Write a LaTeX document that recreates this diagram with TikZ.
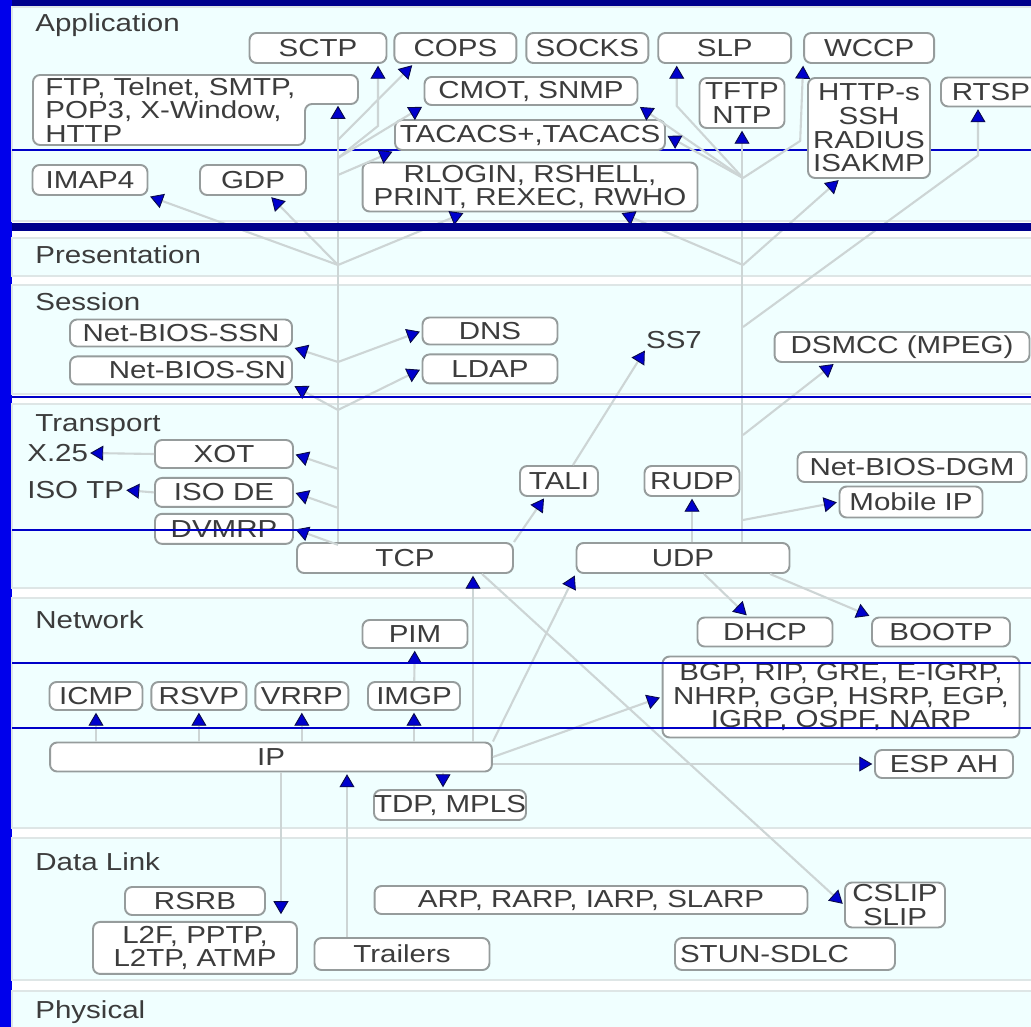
\documentclass[tikz,border=0pt]{standalone}
\usepackage{fontspec}
\setmainfont{Liberation Sans}[FakeStretch=1.2]
\usepackage{xcolor}
\usepackage{tikz}
\usetikzlibrary{arrows.meta, positioning, calc}
\definecolor{stripeblue}{RGB}{0,0,235}
\definecolor{topnavy}{RGB}{0,0,140}
\definecolor{panelcyan}{RGB}{240,255,255}
\definecolor{gapgray}{RGB}{222,230,230}
\definecolor{boxgray}{RGB}{150,156,156}
\definecolor{inkgray}{RGB}{60,60,60}
\definecolor{wiregray}{RGB}{205,213,213}
\definecolor{tipblue}{RGB}{0,0,205}
\definecolor{tipnavy}{RGB}{10,10,70}
\definecolor{lineblue}{RGB}{0,0,200}
\tikzstyle{proto} = [rectangle, rounded corners=4pt, draw=boxgray, line width=1.1pt, fill=white, text=inkgray, inner sep=0pt, minimum height=0.58cm, align=center, font=\fontsize{14}{13.5}\selectfont]
\tikzstyle{plain} = [inner sep=0pt, text=inkgray, font=\fontsize{14}{13.5}\selectfont]
\tikzstyle{layername} = [plain, anchor=west]
\tikzstyle{panel} = [fill=panelcyan, draw=gapgray, line width=1.2pt]
\tikzstyle{wire} = [draw=wiregray, line width=1.2pt]
\tikzstyle{arrow} = [wire, shorten >=1pt, -{Triangle[length=0.26cm, width=0.3cm, fill=tipblue, color=tipnavy, line width=0.5pt]}]
\tikzstyle{bandline} = [draw=lineblue, line width=1.4pt]

\begin{document}
\begin{tikzpicture}[x=0.02cm, y=-0.02cm]
    \useasboundingbox (0,0) rectangle (1031,1027);
    % frame and layer panels
    \fill[stripeblue] (0,0) rectangle (1031,1027);
    \fill[topnavy] (12,0) rectangle (1031,7);
    \fill[white] (12,7) rectangle (1031,1027);
    \filldraw[panel] (12,7) rectangle (1040,221);
    \filldraw[panel] (12,238) rectangle (1040,276);
    \filldraw[panel] (12,285) rectangle (1040,394);
    \filldraw[panel] (12,404) rectangle (1040,588);
    \filldraw[panel] (12,598) rectangle (1040,828);
    \filldraw[panel] (12,838) rectangle (1040,980);
    \filldraw[panel] (12,991) rectangle (1040,1035);
    \draw[bandline] (12,150) -- (1031,150);

    \node (application) [layername] at (35,25) {Application};
    \node (presentation) [layername] at (35,255) {Presentation};
    \node (session) [layername] at (35,302) {Session};
    \node (transport) [layername] at (35,426) {Transport};
    \node (network) [layername] at (35,620) {Network};
    \node (datalink) [layername] at (35,862) {Data Link};
    \node (physical) [layername] at (35,1012) {Physical};

    % Application
    \filldraw[fill=white, draw=boxgray, line width=1.1pt, rounded corners=4pt] (33,75) -- (358,75) -- (358,104) -- (305,104) -- (305,145) -- (33,145) -- cycle;
    \node (ftp) [plain, anchor=west, align=left] at (45,110) {FTP, Telnet, SMTP,\\POP3, X-Window,\\HTTP};
    \node (sctp) [proto, minimum width=2.74cm, minimum height=0.6cm] at (318,48) {SCTP};
    \node (cops) [proto, minimum width=2.44cm, minimum height=0.6cm, right=0.12cm of sctp] {COPS};
    \node (socks) [proto, minimum width=2.44cm, minimum height=0.6cm, right=0.16cm of cops] {SOCKS};
    \node (slp) [proto, minimum width=2.66cm, minimum height=0.6cm, right=0.16cm of socks] {SLP};
    \node (wccp) [proto, minimum width=2.6cm, minimum height=0.6cm, right=0.22cm of slp] {WCCP};
    \node (cmot) [proto, minimum width=4.26cm, minimum height=0.56cm] at (531,91) {CMOT, SNMP};
    \node (tacacs) [proto, minimum width=5.4cm, minimum height=0.6cm] at (530,135) {TACACS+,TACACS};
    \node (tftp) [proto, minimum width=1.7cm, minimum height=1.0cm] at (742,103) {TFTP\\NTP};
    \node (https) [proto, minimum width=2.44cm, minimum height=2.0cm] at (869,128) {HTTP-s\\SSH\\RADIUS\\ISAKMP};
    \node (rtsp) [proto, minimum width=2.0cm, minimum height=0.58cm] at (991,92) {RTSP};
    \node (imap) [proto, minimum width=2.3cm, minimum height=0.6cm] at (90,180) {IMAP4};
    \node (gdp) [proto, minimum width=2.12cm, minimum height=0.6cm] at (253,180) {GDP};
    \node (rlogin) [proto, minimum width=6.7cm, minimum height=0.98cm] at (530,187) {RLOGIN, RSHELL,\\PRINT, REXEC, RWHO};

    % Session
    \node (ssn) [proto, minimum width=4.44cm, minimum height=0.54cm] at (181,333) {Net-BIOS-SSN};
    \node (sn) [proto, minimum width=4.44cm, minimum height=0.56cm, text width=4.2cm, align=right, below=0.16cm of ssn] {Net-BIOS-SN};
    \node (dns) [proto, minimum width=2.7cm, minimum height=0.54cm] at (490,331) {DNS};
    \node (ldap) [proto, minimum width=2.7cm, minimum height=0.58cm, below=0.16cm of dns] {LDAP};
    \node (ss7) [plain] at (674,340) {SS7};
    \node (dsmcc) [proto, minimum width=5.1cm, minimum height=0.6cm] at (902,347) {DSMCC (MPEG)};

    % Transport
    \node (xot) [proto, minimum width=2.76cm, minimum height=0.56cm] at (224,454) {XOT};
    \node (isode) [proto, minimum width=2.76cm, minimum height=0.58cm, below=0.16cm of xot] {ISO DE};
    \node (dvmrp) [proto, minimum width=2.76cm, minimum height=0.6cm, below=0.1cm of isode] {DVMRP};
    \node (x25) [layername] at (27,453) {X.25};
    \node (isotp) [layername] at (27,490) {ISO TP};
    \node (tali) [proto, minimum width=1.56cm, minimum height=0.6cm] at (559,481) {TALI};
    \node (rudp) [proto, minimum width=1.9cm, minimum height=0.6cm] at (692,481) {RUDP};
    \node (nbdgm) [proto, minimum width=4.58cm, minimum height=0.6cm] at (912,467) {Net-BIOS-DGM};
    \node (mobip) [proto, minimum width=2.86cm, minimum height=0.62cm] at (911,502) {Mobile IP};
    \node (tcp) [proto, minimum width=4.32cm, minimum height=0.6cm] at (405,558) {TCP};
    \node (udp) [proto, minimum width=4.26cm, minimum height=0.6cm] at (683,558) {UDP};

    % Network
    \node (pim) [proto, minimum width=2.1cm, minimum height=0.56cm] at (415,634) {PIM};
    \node (dhcp) [proto, minimum width=2.7cm, minimum height=0.58cm] at (765,632) {DHCP};
    \node (bootp) [proto, minimum width=2.76cm, minimum height=0.58cm] at (941,632) {BOOTP};
    \node (bgp) [proto, minimum width=7.14cm, minimum height=1.62cm] at (841,697) {BGP, RIP, GRE, E-IGRP,\\NHRP, GGP, HSRP, EGP,\\IGRP, OSPF, NARP};
    \node (icmp) [proto, minimum width=1.86cm, minimum height=0.56cm] at (96,696) {ICMP};
    \node (rsvp) [proto, minimum width=1.9cm, minimum height=0.56cm, right=0.14cm of icmp] {RSVP};
    \node (vrrp) [proto, minimum width=1.86cm, minimum height=0.56cm, right=0.14cm of rsvp] {VRRP};
    \node (imgp) [proto, minimum width=1.84cm, minimum height=0.56cm] at (414,696) {IMGP};
    \node (ip) [proto, minimum width=8.84cm, minimum height=0.58cm] at (271,757) {IP};
    \node (espah) [proto, minimum width=2.76cm, minimum height=0.56cm] at (944,764) {ESP AH};
    \node (tdp) [proto, minimum width=3.0cm, minimum height=0.6cm] at (450,805) {TDP, MPLS};

    % Data Link
    \node (rsrb) [proto, minimum width=2.8cm, minimum height=0.56cm] at (195,901) {RSRB};
    \node (l2f) [proto, minimum width=4.08cm, minimum height=1.04cm, below=0.1cm of rsrb] {L2F, PPTP,\\L2TP, ATMP};
    \node (trailers) [proto, minimum width=3.5cm, minimum height=0.64cm] at (402,954) {Trailers};
    \node (arp) [proto, minimum width=8.66cm, minimum height=0.56cm] at (591,900) {ARP, RARP, IARP, SLARP};
    \node (cslip) [proto, minimum width=2.0cm, minimum height=0.9cm] at (895,905) {CSLIP\\SLIP};
    \node (stun) [proto, minimum width=4.4cm, minimum height=0.64cm, text width=4.2cm, align=left] at (785,954) {STUN-SDLC};

    % TCP trunk
    \coordinate (ftpfoot) at (338,104);
    \coordinate (ja1) at (338,140);
    \coordinate (ja2) at (338,158);
    \coordinate (ja3) at (338,175);
    \coordinate (jb) at (338,265);
    \coordinate (jc) at (338,362);
    \coordinate (jd) at (338,410);
    \draw[arrow] (tcp.north -| ftpfoot) -- (ftpfoot);
    \draw[arrow] (ja2) -- ($(sctp.south)+(60,62)$) -- ($(sctp.south)+(60,0)$);
    \draw[arrow] (ja1) -- ($(cops.south west)+(20,0)$);
    \draw[arrow] (ja2) -- (cmot.south west);
    \draw[arrow] (ja3) -- (tacacs.south west);
    \draw[arrow] (jb) -- (imap.south east);
    \draw[arrow] (jb) -- ($(gdp.south)+(17,0)$);
    \draw[arrow] (jb) -- ($(rlogin.south)+(-65,0)$);
    \draw[arrow] (jc) -- (ssn.south east);
    \draw[arrow] (jc) -- (dns.west);
    \draw[arrow] (jd) -- (sn.south east);
    \draw[arrow] (jd) -- (ldap.west);
    \draw[arrow] (ftpfoot |- xot.south) -- (xot.east);
    \draw[arrow] (ftpfoot |- isode.south) -- (isode.east);
    \draw[arrow] (ftpfoot |- dvmrp.south) -- (dvmrp.east);
    \draw[arrow] (xot.west) -- (x25.east);
    \draw[arrow] (isode.west) -- (isotp.east);

    % UDP trunk
    \coordinate (ju1) at (743,178);
    \coordinate (ju2) at (743,265);
    \coordinate (ju3) at (743,327);
    \coordinate (ju4) at (743,435);
    \coordinate (ju5) at (743,520);
    \draw[arrow] (udp.north -| tftp) -- (tftp.south);
    \draw[arrow] (ju1) -- (cmot.south east);
    \draw[arrow] (ju1) -- (tacacs.east);
    \draw[arrow] (ju1) -- ($(slp.south)+(-48,42)$) -- ($(slp.south)+(-48,0)$);
    \draw[arrow] (ju1) -- ($(wccp.south west)+(-3,77)$) -- (wccp.south west);
    \draw[arrow] (ju2) -- ($(rlogin.south)+(90,0)$);
    \draw[arrow] (ju2) -- ($(https.south)+(-29,0)$);
    \draw[arrow] (ju3) -- ($(rtsp.south)+(-13,48)$) -- ($(rtsp.south)+(-13,0)$);
    \draw[arrow] (ju4) -- ($(dsmcc.south)+(-67,0)$);
    \draw[arrow] (ju5) -- (mobip.west);
    \draw[arrow] (udp.north -| rudp) -- (rudp.south);
    \draw[arrow] (tcp.north east) -- ($(tali.south)+(-14,0)$);
    \draw[arrow] ($(tali.north)+(14,0)$) -- (ss7.south west);

    % Network and below
    \coordinate (tcpin) at ($(tcp.south)+(68,0)$);
    \coordinate (tdpin) at ($(tdp.north)+(-7,0)$);
    \coordinate (trin) at ($(trailers.north)+(-55,0)$);
    \coordinate (rsrbin) at ($(rsrb.south east)+(15,0)$);
    \draw[arrow] (ip.north -| tcpin) -- (tcpin);
    \draw[arrow] (ip.north east) -- (udp.south west);
    \draw[arrow] ($(tcp.south)+(77,0)$) -- (cslip.west);
    \draw[arrow] ($(udp.south)+(21,0)$) -- ($(dhcp.north)+(-17,0)$);
    \draw[arrow] ($(udp.south)+(87,0)$) -- (bootp.north west);
    \draw[arrow] (imgp) -- (pim);
    \foreach \n in {icmp, rsvp, vrrp, imgp}
        \draw[arrow] (ip.north -| \n) -- (\n);
    \draw[arrow] (ip.east) -- (bgp.west);
    \draw[arrow] (ip.east |- espah) -- (espah.west);
    \draw[arrow] (ip.south -| tdpin) -- (tdpin);
    \draw[arrow] (trin) -- (ip.south -| trin);
    \draw[arrow] (ip.south -| rsrbin) -- (rsrbin);

    % blue rules over everything
    \fill[topnavy] (12,223) rectangle (1031,231);
    \foreach \y in {397, 530, 663, 728}
        \draw[bandline] (12,\y) -- (1031,\y);
\end{tikzpicture}
\end{document}
